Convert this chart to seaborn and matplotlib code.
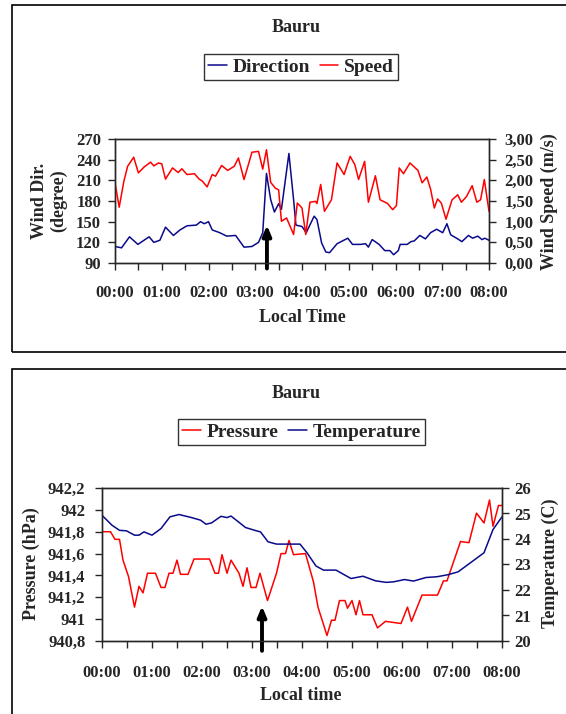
import numpy as np
import pandas as pd
import seaborn as sns
import matplotlib.pyplot as plt
from matplotlib.patches import Rectangle
from matplotlib.ticker import MultipleLocator, FuncFormatter
from matplotlib.lines import Line2D

sns.set_style("ticks")
plt.rcParams['font.family'] = ['Liberation Serif', 'DejaVu Serif']
plt.rcParams['font.weight'] = 'bold'

# ---- wind panel data (time in hours after 00:00) ----
dir_time = [0.0, 0.14, 0.31, 0.49, 0.62, 0.73, 0.83, 0.96, 1.08, 1.25, 1.39, 1.54, 1.74, 1.83,
            1.91, 2.0, 2.08, 2.24, 2.39, 2.58, 2.76, 2.93, 3.07, 3.16, 3.24, 3.33, 3.41, 3.50,
            3.56, 3.72, 3.82, 3.87, 4.0, 4.09, 4.26, 4.32, 4.42, 4.51, 4.59, 4.75, 4.98, 5.08,
            5.25, 5.36, 5.42, 5.50, 5.65, 5.77, 5.88, 5.96, 6.06, 6.10, 6.25, 6.33, 6.40, 6.52,
            6.64, 6.75, 6.88, 7.01, 7.10, 7.18, 7.33, 7.42, 7.56, 7.65, 7.76, 7.85, 7.91, 8.0]
dir_values = [114, 112, 128, 117, 123, 128, 120, 123, 142, 130, 138, 144, 145, 150,
              147, 150, 138, 134, 129, 130, 113, 114, 120, 134, 220, 182, 164, 176,
              168, 249, 182, 145, 143, 134, 158, 153, 119, 106, 105, 118, 126, 117,
              117, 118, 113, 124, 117, 108, 108, 102, 108, 117, 117, 121, 122, 130,
              125, 134, 139, 134, 147, 131, 125, 121, 130, 126, 129, 124, 126, 123]

spd_time = [0.0, 0.09, 0.19, 0.27, 0.40, 0.50, 0.62, 0.76, 0.83, 0.93, 1.0, 1.08, 1.23, 1.35,
            1.43, 1.54, 1.70, 1.80, 1.87, 1.97, 2.08, 2.15, 2.28, 2.41, 2.55, 2.64, 2.76, 2.93,
            3.07, 3.16, 3.24, 3.33, 3.43, 3.50, 3.56, 3.67, 3.82, 3.90, 4.0, 4.08, 4.17, 4.29,
            4.32, 4.40, 4.48, 4.63, 4.75, 4.90, 5.03, 5.13, 5.21, 5.34, 5.42, 5.57, 5.67, 5.83,
            5.94, 6.02, 6.08, 6.17, 6.31, 6.48, 6.57, 6.67, 6.75, 6.83, 6.90, 6.98, 7.08, 7.21,
            7.33, 7.41, 7.52, 7.64, 7.74, 7.82, 7.90, 8.0]
spd_values = [1.94, 1.35, 1.98, 2.34, 2.56, 2.18, 2.32, 2.44, 2.35, 2.42, 2.40, 2.03, 2.30, 2.19,
              2.28, 2.14, 2.16, 2.03, 1.98, 1.84, 2.14, 2.10, 2.36, 2.24, 2.34, 2.54, 2.02, 2.68,
              2.70, 2.27, 2.74, 1.95, 1.81, 1.77, 1.01, 1.09, 0.69, 1.45, 1.33, 0.69, 1.47, 1.49,
              1.44, 1.90, 1.25, 1.53, 2.42, 2.14, 2.58, 2.38, 2.02, 2.46, 1.47, 2.11, 1.53, 1.44,
              1.29, 1.39, 2.30, 2.16, 2.42, 2.24, 1.94, 2.08, 1.79, 1.33, 1.55, 1.45, 1.06, 1.53,
              1.65, 1.47, 1.61, 1.87, 1.47, 1.53, 2.02, 1.25]

# ---- pressure / temperature panel data ----
p_time = [0.0, 0.17, 0.26, 0.35, 0.42, 0.53, 0.65, 0.74, 0.82, 0.91, 1.07, 1.18, 1.26, 1.34,
          1.42, 1.50, 1.57, 1.72, 1.84, 2.15, 2.26, 2.33, 2.40, 2.50, 2.58, 2.74, 2.82, 2.90,
          2.98, 3.08, 3.16, 3.31, 3.49, 3.58, 3.67, 3.74, 3.83, 4.07, 4.23, 4.32, 4.50, 4.59,
          4.66, 4.75, 4.86, 4.91, 5.0, 5.08, 5.15, 5.22, 5.40, 5.51, 5.67, 5.98, 6.11, 6.19,
          6.40, 6.71, 6.83, 6.90, 7.17, 7.34, 7.49, 7.64, 7.75, 7.82, 7.93, 8.0]
p_values = [941.80, 941.80, 941.73, 941.73, 941.54, 941.39, 941.11, 941.30, 941.24, 941.42,
            941.42, 941.29, 941.29, 941.42, 941.42, 941.54, 941.41, 941.41, 941.55, 941.55,
            941.42, 941.42, 941.59, 941.42, 941.54, 941.42, 941.30, 941.47, 941.29, 941.29,
            941.42, 941.17, 941.42, 941.60, 941.60, 941.72, 941.59, 941.60, 941.34, 941.11,
            940.85, 940.99, 940.99, 941.17, 941.17, 941.10, 941.17, 941.04, 941.17, 941.04,
            941.04, 940.92, 940.98, 940.96, 941.11, 940.98, 941.22, 941.22, 941.35, 941.35,
            941.71, 941.70, 941.97, 941.88, 942.09, 941.85, 942.04, 942.04]

t_time = [0.0, 0.20, 0.35, 0.49, 0.65, 0.74, 0.84, 1.0, 1.18, 1.36, 1.54, 1.79, 1.97, 2.08,
          2.19, 2.38, 2.50, 2.58, 2.73, 2.87, 3.09, 3.17, 3.32, 3.49, 3.96, 4.10, 4.28, 4.43,
          4.68, 4.98, 5.22, 5.47, 5.68, 5.83, 6.05, 6.23, 6.48, 6.70, 6.92, 7.12, 7.35, 7.64,
          7.82, 8.0]
t_values = [24.93, 24.54, 24.34, 24.32, 24.15, 24.15, 24.28, 24.15, 24.41, 24.87, 24.96, 24.84,
            24.74, 24.58, 24.63, 24.89, 24.84, 24.90, 24.67, 24.45, 24.32, 24.28, 23.89, 23.80,
            23.80, 23.46, 22.94, 22.78, 22.78, 22.45, 22.54, 22.36, 22.30, 22.32, 22.41, 22.35,
            22.49, 22.52, 22.60, 22.71, 23.04, 23.46, 24.37, 24.87]

hour_labels = ["00:00", "01:00", "02:00", "03:00", "04:00", "05:00", "06:00", "07:00", "08:00"]

W, H = 566, 714
fig = plt.figure(figsize=(W / 100, H / 100), dpi=100)
RED = "#FF0000"
NAVY = "#0A0A8C"
lab_kw = dict(fontsize=13, fontweight='bold')
leg_kw = dict(loc='center', ncol=2, frameon=True, fancybox=False, edgecolor='black', fontsize=14,
              handlelength=0.95, handletextpad=0.3, columnspacing=0.5, borderpad=0.2,
              borderaxespad=0)


def frac(x0, y0, x1, y1):
    # pixel box -> figure fraction [left, bottom, width, height]
    return [x0 / W, 1 - y1 / H, (x1 - x0) / W, (y1 - y0) / H]


def hour_fmt(v, p):
    i = int(round(v))
    return hour_labels[i] if 0 <= i < len(hour_labels) else ""


def style_axis(ax, pad_x):
    ax.set_xlim(0, 8)
    ax.xaxis.set_major_locator(MultipleLocator(1))
    ax.xaxis.set_minor_locator(MultipleLocator(0.5))
    ax.xaxis.set_major_formatter(FuncFormatter(hour_fmt))
    ax.tick_params(axis='x', which='both', direction='out', length=5, width=1, pad=pad_x,
                   labelsize=12)
    ax.tick_params(axis='y', direction='out', length=5, width=1, pad=5, labelsize=12)
    for s in ax.spines.values():
        s.set_linewidth(1)
    ax.set_xlabel("")
    ax.set_ylabel("")


def comma(fmt):
    return FuncFormatter(lambda v, p: fmt.format(v).replace('.', ','))


# ---------------- panel 1: wind ----------------
fig.patches.append(Rectangle((12 / W, 1 - 352 / H), 1.2, 347 / H, transform=fig.transFigure,
                             fill=False, edgecolor='black', lw=1.2))
ax1 = fig.add_axes(frac(115, 139, 489, 263))
ax1b = ax1.twinx()
wind_dir = pd.DataFrame({"time": dir_time, "value": dir_values})
wind_spd = pd.DataFrame({"time": spd_time, "value": spd_values})
sns.lineplot(data=wind_dir, x="time", y="value", ax=ax1, color=NAVY, lw=1.1)
sns.lineplot(data=wind_spd, x="time", y="value", ax=ax1b, color=RED, lw=1.1)
ax1.set_ylim(90, 270)
ax1.set_yticks(range(90, 271, 30))
ax1b.set_ylim(0, 3)
ax1b.set_yticks(np.arange(0, 3.01, 0.5))
ax1b.yaxis.set_major_formatter(comma("{:.2f}"))
style_axis(ax1, 11)
style_axis(ax1b, 11)
ax1b.tick_params(axis='y', pad=6)
ax1.annotate("", xy=(3.25, 145), xytext=(3.25, 82), annotation_clip=False,
             arrowprops=dict(arrowstyle='-|>,head_width=0.25,head_length=0.6', lw=2.8,
                             color='black', mutation_scale=10, shrinkA=0, shrinkB=0))

fig.text(296 / W, 1 - 28 / H, "Bauru", ha='center', va='center', **lab_kw)
fig.text(49 / W, 1 - 201 / H, "Wind Dir.\n(degree)", rotation=90, ha='center', va='center',
         linespacing=1.15, **lab_kw)
fig.text(549 / W, 1 - 202 / H, "Wind Speed (m/s)", rotation=90, ha='center', va='center', **lab_kw)
fig.text(302 / W, 1 - 318 / H, "Local Time", ha='center', va='center', **lab_kw)
h1 = [Line2D([], [], color=NAVY, lw=1.1), Line2D([], [], color=RED, lw=1.1)]
leg1 = fig.legend(h1, ["Direction", "Speed"], bbox_to_anchor=(301 / W, 1 - 67 / H), **leg_kw)
leg1.get_frame().set_linewidth(1)

# ---------------- panel 2: pressure / temperature ----------------
fig.patches.append(Rectangle((12 / W, -0.05), 1.2, (H - 369) / H + 0.05, transform=fig.transFigure,
                             fill=False, edgecolor='black', lw=1.2))
ax2 = fig.add_axes(frac(102, 488, 502, 641))
ax2b = ax2.twinx()
press = pd.DataFrame({"time": p_time, "value": p_values})
temp = pd.DataFrame({"time": t_time, "value": t_values})
sns.lineplot(data=press, x="time", y="value", ax=ax2, color=RED, lw=1.1)
sns.lineplot(data=temp, x="time", y="value", ax=ax2b, color=NAVY, lw=1.1)
ax2.set_ylim(940.8, 942.2)
ax2.set_yticks(np.round(np.arange(940.8, 942.21, 0.2), 1))
ax2.yaxis.set_major_formatter(FuncFormatter(lambda v, p: ("%g" % round(v, 1)).replace('.', ',')))
ax2b.set_ylim(20, 26)
ax2b.set_yticks(range(20, 27))
style_axis(ax2, 12)
style_axis(ax2b, 12)
ax2.tick_params(axis='y', pad=7)
ax2b.tick_params(axis='y', pad=4)
ax2.annotate("", xy=(3.2, 941.12), xytext=(3.2, 940.71), annotation_clip=False,
             arrowprops=dict(arrowstyle='-|>,head_width=0.25,head_length=0.6', lw=2.8,
                             color='black', mutation_scale=10, shrinkA=0, shrinkB=0))

fig.text(296 / W, 1 - 393 / H, "Bauru", ha='center', va='center', **lab_kw)
fig.text(31 / W, 1 - 564 / H, "Pressure (hPa)", rotation=90, ha='center', va='center', **lab_kw)
fig.text(550 / W, 1 - 563 / H, "Temperature (C)", rotation=90, ha='center', va='center', **lab_kw)
fig.text(301 / W, 1 - 696 / H, "Local time", ha='center', va='center', **lab_kw)
h2 = [Line2D([], [], color=RED, lw=1.1), Line2D([], [], color=NAVY, lw=1.1)]
leg2 = fig.legend(h2, ["Pressure", "Temperature"], bbox_to_anchor=(301.5 / W, 1 - 432 / H), **leg_kw)
leg2.get_frame().set_linewidth(1)

fig.savefig("out.png", dpi=100)
